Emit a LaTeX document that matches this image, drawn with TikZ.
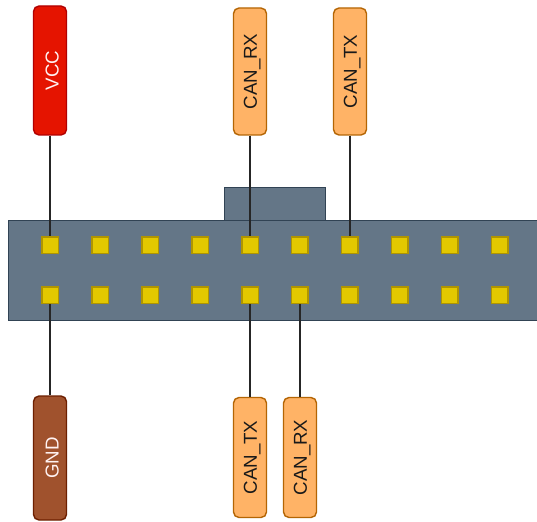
\documentclass[tikz,border=0pt]{standalone}
\usepackage{fontspec}
\setmainfont{Liberation Sans}
\definecolor{boardfill}{HTML}{647687}
\definecolor{boardline}{HTML}{314354}
\definecolor{pinfill}{HTML}{E3C800}
\definecolor{pinline}{HTML}{B09500}
\definecolor{orfill}{HTML}{FFB366}
\definecolor{orline}{HTML}{B46504}
\definecolor{redfill}{HTML}{E51400}
\definecolor{redline}{HTML}{B20000}
\definecolor{brfill}{HTML}{A0522D}
\definecolor{brline}{HTML}{6D1F00}
\newcommand{\vlab}[1]{\hspace{4.5pt}\rotatebox{90}{#1}}
\tikzset{
  board/.style={draw=boardline,fill=boardfill,line width=0.9pt,inner sep=0pt},
  pin/.style={draw=pinline,fill=pinfill,line width=1.5pt,minimum width=16.5pt,minimum height=16.5pt,inner sep=0pt},
  label/.style={rounded corners=5.5pt,line width=1.4pt,minimum width=33pt,inner sep=0pt,font=\fontsize{18.7pt}{20pt}\selectfont},
  orange box/.style={label,draw=orline,fill=orfill,text=black!90},
  wire/.style={draw=black!85,line width=1.5pt}
}
\begin{document}
\begin{tikzpicture}[x=1pt,y=-1pt]
\useasboundingbox (0,0) rectangle (537,521);
\fill[white] (0,0) rectangle (537,521);
\node[board,minimum width=101pt,minimum height=33pt] (tab) at (274.5,203.5) {};
\node[board,minimum width=531pt,minimum height=100pt] (body) at (273.5,270) {};
\foreach \i/\x in {1/50,2/100,3/150,4/200,5/250,6/299.5,7/349.5,8/399.5,9/449.5,10/499.5}{
  \node[pin] (a\i) at (\x,245) {};
  \node[pin] (b\i) at (\x,295) {};
}
\node[label,draw=redline,fill=redfill,minimum height=129pt,text=white!95!red] (vcc) at (50,70.5) {\vlab{VCC}};
\node[orange box,minimum height=127pt] (rx1) at (250,71.5) {\vlab{CAN\_RX}};
\node[orange box,minimum height=127pt] (tx1) at (350,71.5) {\vlab{CAN\_TX}};
\node[label,draw=brline,fill=brfill,minimum height=124pt,text=white!95!red] (gnd) at (50,458) {\vlab{GND}};
\node[orange box,minimum height=120pt] (tx2) at (250,457.5) {\vlab{CAN\_TX}};
\node[orange box,minimum height=120pt] (rx2) at (300,457.5) {\vlab{CAN\_RX}};
\draw[wire] (vcc) -- (a1);
\draw[wire] (rx1) -- (a5);
\draw[wire] (tx1) -- (tx1 |- a7.north);
\draw[wire] (gnd) -- (b1);
\draw[wire] (tx2) -- (b5);
\draw[wire] (rx2) -- (rx2 |- b6.south);
\end{tikzpicture}
\end{document}
